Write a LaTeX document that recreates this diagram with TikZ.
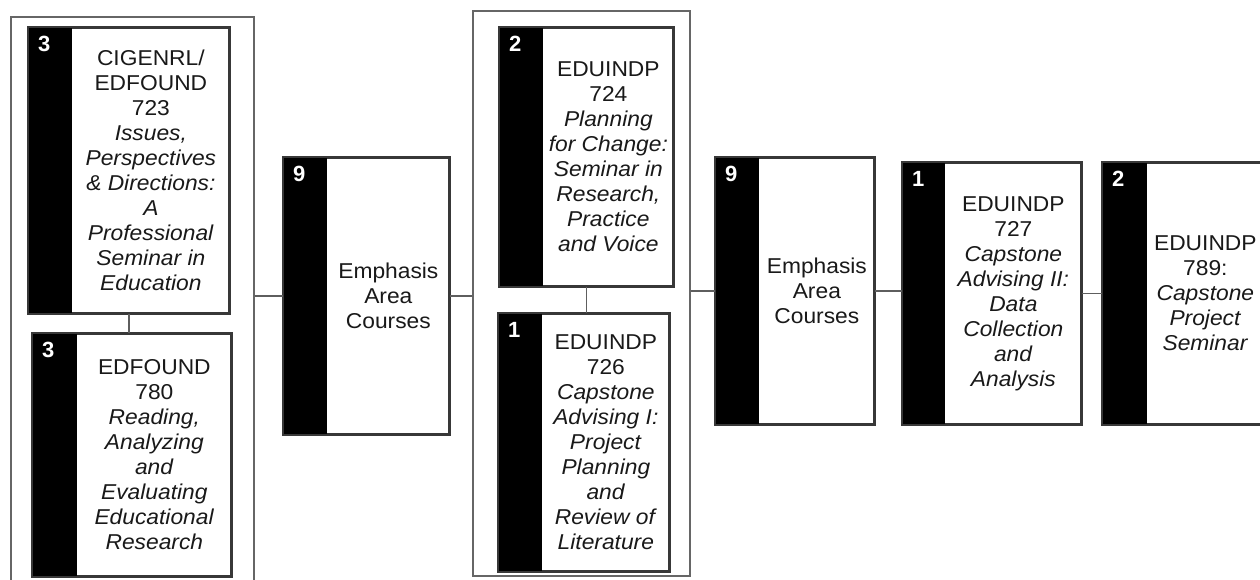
\documentclass[tikz,border=0pt]{standalone}
\usepackage{fontspec}
\setmainfont{Liberation Sans}
\newfontfamily\boxfont[FakeStretch=1.06]{Liberation Sans}
\usetikzlibrary{shadows,calc}
\definecolor{edgec}{HTML}{383838}
\definecolor{linkc}{HTML}{5E5E5E}
\definecolor{groupc}{HTML}{666666}
\tikzset{
  coursebox/.style={draw=edgec, line width=1.7pt, fill=white, inner sep=0pt, anchor=north west,
    drop shadow={shadow xshift=2pt, shadow yshift=-2pt, fill=black!55, opacity=0.6}},
  boxedge/.style={draw=edgec, line width=1.7pt},
  groupbox/.style={draw=groupc, line width=1.6pt, inner sep=0pt, anchor=north west},
  numlabel/.style={text=white, font=\bfseries\fontsize{22}{22}\selectfont, anchor=north west, inner sep=0pt},
  txt/.style={align=center, font=\boxfont\fontsize{21.5}{25}\selectfont, inner sep=0pt, text=black!90},
  link/.style={draw=linkc, line width=1.5pt}
}
\newcommand\crs[8]{%
  \node[coursebox, minimum width=#4pt, minimum height=#5pt] (#1) at (#2,#3) {};
  \fill[black] (#1.north west) rectangle ([xshift=#6pt]#1.south west);
  \draw[boxedge] (#1.north west) rectangle (#1.south east);
  \node[numlabel] (#1n) at ([xshift=10pt,yshift=-9pt]#1.north west) {#7};
  \node[txt] (#1t) at ($([xshift=#6pt]#1.north west)!0.5!(#1.south east)$) {#8};
}
\begin{document}
\begin{tikzpicture}[x=1pt,y=-1pt]
\useasboundingbox (0,0) rectangle (1260,580);
\clip (0,0) rectangle (1260,580);
\fill[white] (0,0) rectangle (1260,580);
% groups
\node[groupbox, minimum width=243pt, minimum height=575pt] (G1) at (10,16) {};
\node[groupbox, minimum width=217pt, minimum height=565pt] (G2) at (472,10) {};
% courses
\crs{A}{28}{27}{200}{285}{44}{3}{CIGENRL/\\EDFOUND\\723\\\textit{Issues,}\\\textit{Perspectives}\\\textit{\& Directions:}\\\textit{A}\\\textit{Professional}\\\textit{Seminar in}\\\textit{Education}}
\crs{B}{32}{333}{198}{242}{45}{3}{EDFOUND\\780\\\textit{Reading,}\\\textit{Analyzing}\\\textit{and}\\\textit{Evaluating}\\\textit{Educational}\\\textit{Research}}
\crs{C}{283}{157}{165}{276}{44}{9}{Emphasis\\Area\\Courses}
\crs{D}{499}{27}{173}{258}{44}{2}{EDUINDP\\724\\\textit{Planning}\\\textit{for Change:}\\\textit{Seminar in}\\\textit{Research,}\\\textit{Practice}\\\textit{and Voice}}
\crs{E}{498}{313}{170}{257}{44}{1}{EDUINDP\\726\\\textit{Capstone}\\\textit{Advising I:}\\\textit{Project}\\\textit{Planning}\\\textit{and}\\\textit{Review of}\\\textit{Literature}}
\crs{F}{715}{157}{158}{266}{44}{9}{Emphasis\\Area\\Courses}
\crs{G}{902}{162}{178}{261}{43}{1}{EDUINDP\\727\\\textit{Capstone}\\\textit{Advising II:}\\\textit{Data}\\\textit{Collection}\\\textit{and}\\\textit{Analysis}}
\crs{H}{1102}{162}{160}{261}{45}{2}{EDUINDP\\789:\\\textit{Capstone}\\\textit{Project}\\\textit{Seminar}}
% connectors
\draw[link] (A.south) -- (A.south |- B.north);
\draw[link] (C.west -| G1.east) -- (C.west);
\draw[link] (C.east) -- (C.east -| G2.west);
\draw[link] (D.south) -- (D.south |- E.north);
\draw[link] (F.west -| G2.east) -- (F.west);
\draw[link] (F.east) -- (F.east -| G.west);
\draw[link] (G.east) -- (G.east -| H.west);
\end{tikzpicture}
\end{document}
